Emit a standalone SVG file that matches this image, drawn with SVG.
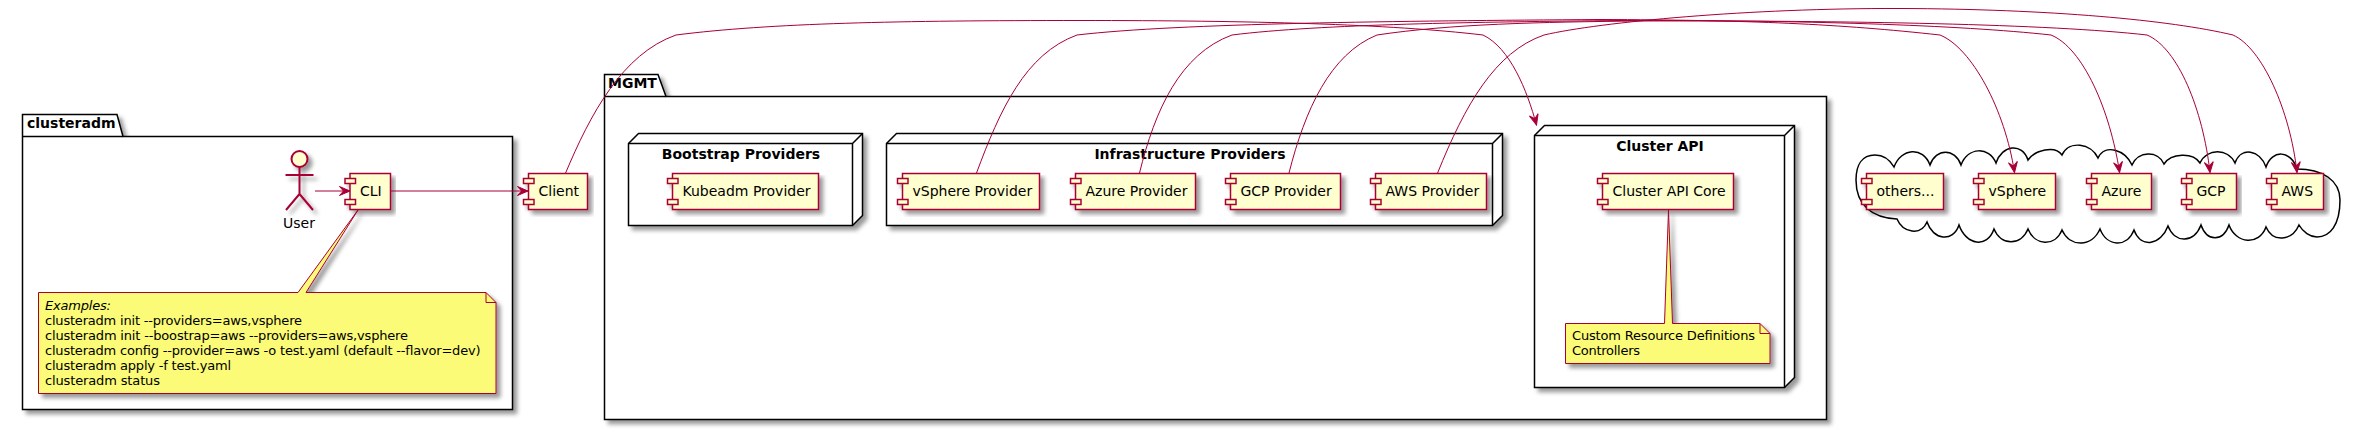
<svg xmlns="http://www.w3.org/2000/svg" width="2360" height="430" viewBox="0 0 2360 430">
<defs>
<style>
text{font-family:"DejaVu Sans",sans-serif;font-size:14px;fill:#000}
.t{font-weight:bold;text-anchor:middle}
.p{font-weight:bold}
.n{font-size:13px}
.c{fill:#FEFECE;stroke:#A80036;stroke-width:1.5}
.b{fill:#fff;stroke:#000;stroke-width:1.5}
.l{fill:none;stroke:#000;stroke-width:1.5}
.note{fill:#FBFB77;stroke:#A80036;stroke-width:1}
.fold{fill:none;stroke:#A80036;stroke-width:1}
.e{fill:none;stroke:#A80036;stroke-width:1;marker-end:url(#a)}
.act{fill:none;stroke:#A80036;stroke-width:2}
</style>
<filter id="s" x="-5%" y="-5%" width="115%" height="125%" filterUnits="objectBoundingBox">
<feGaussianBlur in="SourceAlpha" stdDeviation="2" result="b"/>
<feColorMatrix in="b" type="matrix" values="0 0 0 0 0 0 0 0 0 0 0 0 0 0 0 0 0 0 .4 0" result="c"/>
<feOffset in="c" dx="4" dy="4" result="o"/>
<feMerge><feMergeNode in="o"/><feMergeNode in="SourceGraphic"/></feMerge>
</filter>
<filter id="sa" filterUnits="userSpaceOnUse" x="270" y="140" width="60" height="90">
<feGaussianBlur in="SourceAlpha" stdDeviation="2" result="b"/>
<feColorMatrix in="b" type="matrix" values="0 0 0 0 0 0 0 0 0 0 0 0 0 0 0 0 0 0 .4 0" result="c"/>
<feOffset in="c" dx="4" dy="4" result="o"/>
<feMerge><feMergeNode in="o"/><feMergeNode in="SourceGraphic"/></feMerge>
</filter>
<marker id="a" markerUnits="userSpaceOnUse" markerWidth="14" markerHeight="12" refX="12" refY="6" orient="auto">
<path d="M12,6 L1.5,1.5 L5.5,6 L1.5,10.5 Z" fill="#A80036" stroke="#A80036"/>
</marker>
<g id="port"><rect class="c" x="-5" y="5" width="10.5" height="5"/><rect class="c" x="-5" y="26" width="10.5" height="5"/></g>
</defs>
<rect width="2360" height="430" fill="#fff"/>

<g id="pkg-clusteradm">
<g filter="url(#s)"><path class="b" d="M22.500,114.500 H117 L123,136.500 H512.500 V409.500 H22.500 Z"/></g>
<path class="l" d="M22.500,136.500 H123"/>
<text class="p" x="27" y="128">clusteradm</text>
</g>
<g id="pkg-mgmt">
<g filter="url(#s)"><path class="b" d="M604.500,74.500 H658 L666,96.500 H1826.500 V419.500 H604.500 Z"/></g>
<path class="l" d="M604.500,96.500 H666"/>
<text class="p" x="608" y="88">MGMT</text>
</g>
<g id="node-bootstrap">
<g filter="url(#s)"><path class="b" d="M628.500,143.500 L638.500,133.500 H862.500 V215.500 L852.500,225.500 H628.500 Z"/></g>
<path class="l" d="M628.500,143.500 H852.500 L862.500,133.500 M852.500,143.500 V225.500"/>
<text class="t" x="741" y="159">Bootstrap Providers</text>
</g>
<g id="node-infra">
<g filter="url(#s)"><path class="b" d="M886.500,143.500 L896.500,133.500 H1502.500 V215.500 L1492.500,225.500 H886.500 Z"/></g>
<path class="l" d="M886.500,143.500 H1492.500 L1502.500,133.500 M1492.500,143.500 V225.500"/>
<text class="t" x="1190" y="159">Infrastructure Providers</text>
</g>
<g id="node-clusterapi">
<g filter="url(#s)"><path class="b" d="M1534.500,135.500 L1544.500,125.500 H1794.500 V377.500 L1784.500,387.500 H1534.500 Z"/></g>
<path class="l" d="M1534.500,135.500 H1784.500 L1794.500,125.500 M1784.500,135.500 V387.500"/>
<text class="t" x="1660" y="151">Cluster API</text>
</g>
<g id="cloud">
<path fill="#fff" stroke="#000" stroke-width="1.500" d="M1897,219 C1872,218 1856,205 1856,180 C1856,165 1862,155 1875,155 C1884,155 1890,160 1894,167 C1901,148 1923,146 1930,165 C1936,148 1955,148 1961,165 C1968,147 1989,146 1996,163 C2002,145 2022,142 2028,160 C2035,150 2055,145 2062,155 C2069,140 2091,143 2098,158 C2105,143 2125,150 2132,165 C2138,151 2158,150 2164,164 C2171,153 2193,152 2200,163 C2207,148 2228,148 2235,163 C2241,146 2260,150 2266,167 C2272,149 2291,150 2297,169 C2322,169 2340,180 2340,200 C2340,225 2330,237 2317,237 C2310,237 2303,232 2299,225 C2292,241 2273,243 2266,227 C2259,246 2236,244 2229,225 C2223,242 2207,242 2201,225 C2194,243 2175,244 2168,226 C2161,245 2141,249 2134,230 C2127,248 2107,247 2100,229 C2092,247 2070,248 2062,230 C2055,247 2035,246 2028,229 C2021,246 2001,246 1994,229 C1987,249 1966,245 1959,225 C1953,243 1933,240 1927,222 C1921,236 1903,233 1897,219 Z"/>
</g>

<g id="user">
<g filter="url(#sa)">
<circle cx="299.500" cy="159" r="8" fill="#FEFECE" stroke="#A80036" stroke-width="2"/>
<path class="act" d="M299.500,167 V194 M285.500,175 H313.500 M299.500,194 L286,210 M299.500,194 L313,210"/>
</g>
<text x="283" y="228">User</text>
</g>
<g id="cli"><g filter="url(#s)"><rect class="c" x="350" y="173.500" width="40.500" height="36"/><use href="#port" x="350" y="173.500"/></g><text x="360" y="196">CLI</text></g>
<g id="client"><g filter="url(#s)"><rect class="c" x="528.500" y="173.500" width="59" height="36"/><use href="#port" x="528.500" y="173.500"/></g><text x="538.500" y="196">Client</text></g>
<g id="note-cli">
<g filter="url(#s)"><path class="note" d="M38.500,292.500 H298 L358,210 L306,292.500 H486 L496,302.500 V393.500 H38.500 Z"/></g>
<path class="fold" d="M486,292.500 V302.500 H496"/>
<text class="n" x="45" y="310" font-style="italic" textLength="66">Examples:</text>
<text class="n" x="45" y="325" textLength="257">clusteradm init --providers=aws,vsphere</text>
<text class="n" x="45" y="340" textLength="363">clusteradm init --boostrap=aws --providers=aws,vsphere</text>
<text class="n" x="45" y="355" textLength="435.500">clusteradm config --provider=aws -o test.yaml (default --flavor=dev)</text>
<text class="n" x="45" y="370" textLength="186">clusteradm apply -f test.yaml</text>
<text class="n" x="45" y="385" textLength="115">clusteradm status</text>
</g>
<g id="kubeadm"><g filter="url(#s)"><rect class="c" x="672.500" y="173.500" width="146" height="36"/><use href="#port" x="672.500" y="173.500"/></g><text x="682.500" y="196">Kubeadm Provider</text></g>
<g id="vsphere-provider"><g filter="url(#s)"><rect class="c" x="902.500" y="173.500" width="137" height="36"/><use href="#port" x="902.500" y="173.500"/></g><text x="912.500" y="196">vSphere Provider</text></g>
<g id="azure-provider"><g filter="url(#s)"><rect class="c" x="1075.500" y="173.500" width="120" height="36"/><use href="#port" x="1075.500" y="173.500"/></g><text x="1085.500" y="196">Azure Provider</text></g>
<g id="gcp-provider"><g filter="url(#s)"><rect class="c" x="1230.500" y="173.500" width="110" height="36"/><use href="#port" x="1230.500" y="173.500"/></g><text x="1240.500" y="196">GCP Provider</text></g>
<g id="aws-provider"><g filter="url(#s)"><rect class="c" x="1375.500" y="173.500" width="111" height="36"/><use href="#port" x="1375.500" y="173.500"/></g><text x="1385.500" y="196">AWS Provider</text></g>
<g id="cluster-api-core"><g filter="url(#s)"><rect class="c" x="1602.500" y="173.500" width="131" height="36"/><use href="#port" x="1602.500" y="173.500"/></g><text x="1612.500" y="196">Cluster API Core</text></g>
<g id="note-core">
<g filter="url(#s)"><path class="note" d="M1565.500,323.500 H1664.500 L1668.500,210 L1672.500,323.500 H1760 L1770,333.500 V363.500 H1565.500 Z"/></g>
<path class="fold" d="M1760,323.500 V333.500 H1770"/>
<text class="n" x="1572" y="340" textLength="183">Custom Resource Definitions</text>
<text class="n" x="1572" y="355" textLength="68">Controllers</text>
</g>
<g id="others"><g filter="url(#s)"><rect class="c" x="1866.500" y="173.500" width="77" height="36"/><use href="#port" x="1866.500" y="173.500"/></g><text x="1876.500" y="196">others...</text></g>
<g id="vsphere"><g filter="url(#s)"><rect class="c" x="1978.500" y="173.500" width="77" height="36"/><use href="#port" x="1978.500" y="173.500"/></g><text x="1988.500" y="196">vSphere</text></g>
<g id="azure"><g filter="url(#s)"><rect class="c" x="2091.500" y="173.500" width="60" height="36"/><use href="#port" x="2091.500" y="173.500"/></g><text x="2101.500" y="196">Azure</text></g>
<g id="gcp"><g filter="url(#s)"><rect class="c" x="2186.500" y="173.500" width="50" height="36"/><use href="#port" x="2186.500" y="173.500"/></g><text x="2196.500" y="196">GCP</text></g>
<g id="aws"><g filter="url(#s)"><rect class="c" x="2271.500" y="173.500" width="52" height="36"/><use href="#port" x="2271.500" y="173.500"/></g><text x="2281.500" y="196">AWS</text></g>

<g id="connectors">
<path class="e" d="M315,191 H350"/>
<path class="e" d="M391,191 H528"/>
<path class="e" d="M565.600,173 C590,115 622,54 676,35 C770,23 900,20.500 1080,20.500 C1250,20.500 1390,24 1483,35 C1510,48 1527,90 1536.500,125"/>
<path class="e" d="M976.500,173 C1000,110 1025,54 1077,35 C1180,23 1400,21 1600,19.500 C1750,20 1840,24 1940,35 C1972,48 2005,110 2014.500,172.500"/>
<path class="e" d="M1139.500,173 C1155,110 1180,54 1232,35 C1320,24 1480,22 1620,20.500 C1800,20 1960,25 2051,35 C2083,48 2110,110 2119.600,172.500"/>
<path class="e" d="M1289,173 C1305,110 1330,54 1377,35 C1450,24 1540,22 1640,21 C1850,20.500 2050,24 2147,35 C2178,48 2203,110 2210,172.500"/>
<path class="e" d="M1437.600,173 C1465,105 1495,52 1544,35 C1600,22 1750,8 1900,8.500 C2050,9 2170,20 2233,35 C2262,48 2290,110 2297,172.500"/>
</g>
</svg>
